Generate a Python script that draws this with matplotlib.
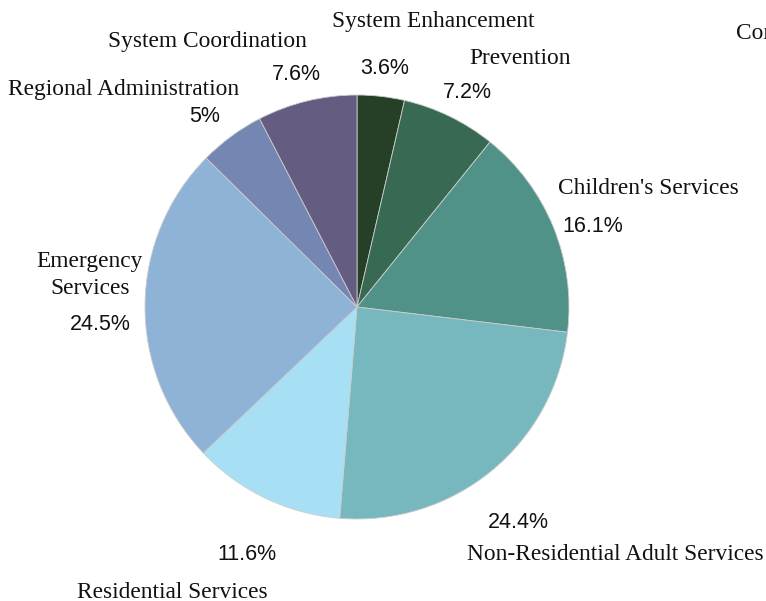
import matplotlib.pyplot as plt

# budget shares, clockwise from 12 o'clock
categorias = ['System Enhancement', 'Prevention', "Children's Services",
              'Non-Residential Adult Services', 'Residential Services',
              'Emergency\nServices', 'Regional Administration', 'System Coordination']
porcentajes = [3.6, 7.2, 16.1, 24.4, 11.6, 24.5, 5, 7.6]
etiquetas_pct = ['3.6%', '7.2%', '16.1%', '24.4%', '11.6%', '24.5%', '5%', '7.6%']
colores = ['#264027', '#386a53', '#519288', '#77b8be', '#a7e0f5',
           '#8eb3d6', '#7487b2', '#655c82']

# label positions in pixels (x, y from top): name, percentage
pos_nombre = [(433, 21), (520, 59), (648, 189), (615, 554), (172, 592),
              (90, 275), (124, 89), (207, 42)]
pos_pct = [(385, 69), (467, 93), (593, 227), (518, 522), (247, 555),
           (100, 324), (205, 117), (296, 74)]

W, H = 766, 601
fig = plt.figure(figsize=(W / 100, H / 100), dpi=100)
ax = fig.add_axes([0, 0, 1, 1])

ax.pie(porcentajes, colors=colores, startangle=90, counterclock=False,
       center=(357, H - 307), radius=212, frame=True,
       wedgeprops={'linewidth': 0.6, 'edgecolor': '#cccccc'})
ax.set_xlim(0, W)
ax.set_ylim(0, H)
ax.set_aspect('equal')
ax.set_axis_off()

fuente_serif = 'Liberation Serif'
fuente_sans = 'Liberation Sans'
for nombre, (xn, yn), pct, (xp, yp) in zip(categorias, pos_nombre, etiquetas_pct, pos_pct):
    ax.text(xn, H - yn, nombre, ha='center', va='center', fontsize=16.8,
            family=fuente_serif, color='#111111', linespacing=1.35)
    ax.text(xp, H - yp, pct, ha='center', va='center', fontsize=15.5,
            family=fuente_sans, color='#111111')

# labels cut off at the right edge
ax.text(736, H - 34, 'Community', ha='left', va='center', fontsize=16.8,
        family=fuente_serif, color='#111111')
ax.text(731, H - 611, '3.2%', ha='left', va='center', fontsize=15.5,
        family=fuente_sans, color='#111111')

fig.savefig('out.png', dpi=100)
